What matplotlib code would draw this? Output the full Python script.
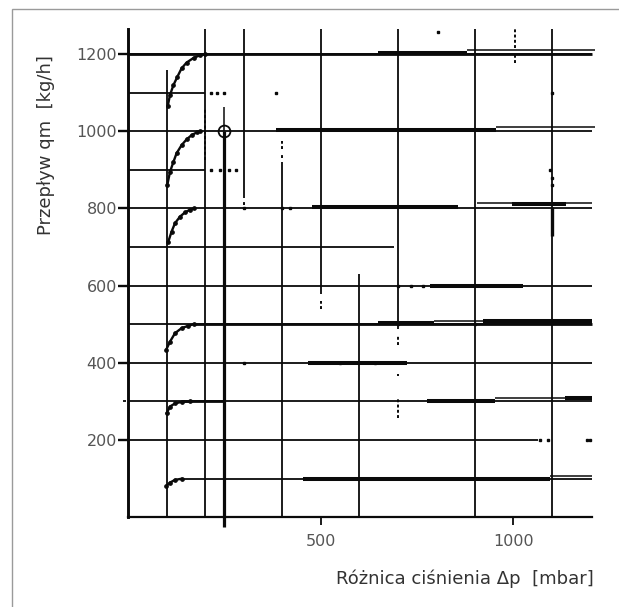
import matplotlib
matplotlib.use("Agg")
import matplotlib.pyplot as plt
from matplotlib.patches import Rectangle

plt.rcParams['font.family'] = ['DejaVu Sans']

# ---------------- data ----------------
# saturation curves (x in mbar, y in kg/h)
c1200_x = [103, 109, 118, 128, 139, 152, 170, 187, 200]
c1200_y = [1065, 1094, 1120, 1141, 1163, 1178, 1190, 1197, 1200]
c1000_x = [102, 109, 118, 126, 139, 152, 165, 178, 188]
c1000_y = [861, 895, 921, 943, 964, 979, 990, 997, 1000]
c800_x = [104, 113, 122, 135, 148, 161, 172]
c800_y = [712, 740, 762, 779, 790, 797, 800]
c500_x = [99, 109, 122, 139, 156, 170]
c500_y = [434, 455, 477, 490, 496, 500]
c300_x = [100, 109, 122, 139, 160]
c300_y = [269, 287, 295, 299, 300]
c100_x = [99, 109, 122, 140]
c100_y = [81, 90, 97, 100]
curves_x = [c1200_x, c1000_x, c800_x, c500_x, c300_x, c100_x]
curves_y = [c1200_y, c1000_y, c800_y, c500_y, c300_y, c100_y]

# operating point marker
point_x = [250]
point_y = [1000]

# vertical grid lines (x, bottom, top)
v_x = [100, 200, 300, 400, 500, 600, 700, 900, 1100]
v_lo = [0, 0, 828, 0, 578, 0, 488, 0, 0]
v_hi = [1160, 1265, 1265, 920, 1265, 630, 1265, 1265, 1265]

# broken vertical pieces (x, bottom, top)
vd_x = [300, 400, 400, 500, 700, 700, 700, 1005, 1005, 200]
vd_lo = [808, 930, 955, 540, 447, 365, 257, 1178, 1215, 925]
vd_hi = [822, 945, 975, 560, 470, 372, 310, 1200, 1265, 1060]

# heavy vertical pieces (x, bottom, top)
vh_x = [1100]
vh_lo = [730]
vh_hi = [805]

# horizontal grid lines (y, left, right)
h_y = [1200, 1100, 1000, 900, 800, 700, 600, 500, 400, 300, 200, 100]
h_lo = [0, 0, 0, 0, 0, 0, 0, 0, 0, 0, 0, 140]
h_hi = [1205, 200, 1205, 200, 1205, 690, 1205, 1205, 1205, 1205, 1065, 1205]

# medium-weight level lines (y, left, right)
m_y = [1200, 500, 300]
m_lo = [0, 170, 140]
m_hi = [1205, 1205, 250]

# heavy traces along the levels (y, left, right)
t_y = [1203, 1003, 805, 812, 599, 503, 508, 400, 302, 310, 100]
t_lo = [650, 385, 477, 997, 783, 649, 922, 467, 776, 1135, 455]
t_hi = [880, 954, 856, 1136, 1026, 795, 1205, 723, 953, 1205, 1096]

# split (doubled) lines on the right (y, left, right)
s_y = [1210, 1010, 813, 508, 310, 107]
s_lo = [880, 954, 906, 795, 953, 1096]
s_hi = [1212, 1212, 1205, 922, 1135, 1205]

# stray scan dots
dot_x = [805, 385, 215, 230, 250, 215, 240, 262, 280, 300, 400, 420, 1100, 1095,
         1100, 1100, 300, 640, 550, 700, 700, 1070, 1090, 1190, 1200, 900, 735, 765]
dot_y = [1258, 1100, 1100, 1100, 1100, 900, 900, 900, 900, 800, 800, 800, 1100, 900,
         880, 860, 400, 400, 400, 600, 500, 200, 200, 200, 200, 500, 600, 600]

y_ticks = [200, 400, 600, 800, 1000, 1200]
x_ticks = [500, 1000]
x_label = "Różnica ciśnienia Δp  [mbar]"
y_label = "Przepływ qm  [kg/h]"

# ---------------- figure ----------------
W, H = 619, 607
fig = plt.figure(figsize=(W / 100, H / 100), dpi=100)
fig.patches.append(Rectangle((12 / W, -0.2), 1.2, 1.2 - 9 / H, transform=fig.transFigure,
                             fill=False, edgecolor='#9a9a9a', linewidth=1.0))

ax = fig.add_axes([0.18811, 0.10962, 0.7968, 0.85213])
ax.set_xlim(-30, 1250)
ax.set_ylim(-60, 1280)
ax.patch.set_alpha(0)

ink = '#0a0a0a'
kw = dict(clip_on=False, capstyle='butt')

ax.vlines(v_x, v_lo, v_hi, colors=ink, linewidth=1.3, **kw)
ax.vlines(vd_x, vd_lo, vd_hi, colors=ink, linewidth=1.4, linestyles=(0, (1.5, 1.2)), **kw)
ax.vlines(vh_x, vh_lo, vh_hi, colors=ink, linewidth=2.4, **kw)
ax.hlines(h_y, h_lo, h_hi, colors=ink, linewidth=1.3, **kw)
ax.hlines(m_y, m_lo, m_hi, colors=ink, linewidth=2.0, **kw)
ax.hlines(t_y, t_lo, t_hi, colors=ink, linewidth=2.9, **kw)
ax.hlines(s_y, s_lo, s_hi, colors=ink, linewidth=1.1, **kw)

# thick vertical through the operating point
ax.vlines(point_x, -25, point_y[0], colors=ink, linewidth=2.3, **kw)
ax.vlines(point_x, point_y[0], 1062, colors=ink, linewidth=1.1, **kw)
# short tick at 300 on the left
ax.hlines([300], -12, -4, colors=ink, linewidth=1.3, **kw)

for cx, cy in zip(curves_x, curves_y):
    ax.plot(cx, cy, color=ink, linewidth=1.7, marker='o', markersize=2.4,
            clip_on=False, solid_capstyle='round')

ax.plot(dot_x, dot_y, linestyle='none', marker='s', markersize=1.7, color=ink, clip_on=False)
ax.plot(point_x, point_y, linestyle='none', marker='o', markersize=8.5,
        markerfacecolor='none', markeredgecolor=ink, markeredgewidth=1.3, clip_on=False)

# axes through the origin
for side in ['top', 'right']:
    ax.spines[side].set_visible(False)
ax.spines['left'].set_position(('data', 0))
ax.spines['bottom'].set_position(('data', 0))
ax.spines['left'].set_bounds(0, 1265)
ax.spines['bottom'].set_bounds(0, 1205)
ax.spines['left'].set_linewidth(2.1)
ax.spines['bottom'].set_linewidth(1.6)
ax.spines['left'].set_color(ink)
ax.spines['bottom'].set_color(ink)

ax.set_yticks(y_ticks)
ax.set_yticklabels([str(v) for v in y_ticks])
ax.set_xticks(x_ticks)
ax.set_xticklabels([str(v) for v in x_ticks])
ax.tick_params(axis='y', direction='out', length=7, width=1.7, pad=1,
               labelsize=11.5, labelcolor='#555555', color=ink)
ax.tick_params(axis='x', direction='out', length=6, width=1.3, pad=6,
               labelsize=11.5, labelcolor='#555555', color=ink)

fig.text(46 / W, 1 - 145 / H, y_label, rotation=90, ha='center', va='center',
         fontsize=13, color='#333333')
fig.text(594 / W, 1 - 579 / H, x_label, ha='right', va='center',
         fontsize=13, color='#333333')

fig.savefig('out.png', dpi=100)
